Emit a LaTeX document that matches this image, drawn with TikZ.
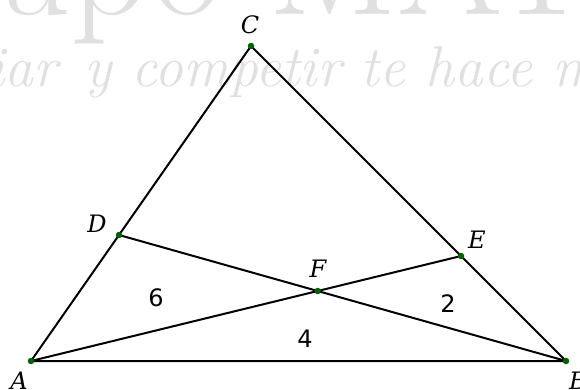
\documentclass[tikz,border=0pt]{standalone}
\usepackage{fontspec}
\newfontfamily\lblfont{DejaVu Serif}
\newfontfamily\numfont{DejaVu Sans}
\usetikzlibrary{intersections,calc}
\definecolor{ptgreen}{RGB}{0,100,0}
\definecolor{wmgray}{RGB}{224,224,224}
\tikzset{
  seg/.style={line width=2pt, black, line cap=round},
  pt/.style={circle, fill=ptgreen, inner sep=0pt, minimum size=6.5pt},
  lbl/.style={font=\lblfont\itshape\fontsize{24}{27}\selectfont, inner sep=0pt},
  num/.style={font=\numfont\fontsize{24}{27}\selectfont, inner sep=0pt},
  wm/.style={text=wmgray, inner sep=0pt, anchor=base west}
}
\begin{document}
\begin{tikzpicture}[x=1pt, y=-1pt]
\useasboundingbox (0,0) rectangle (580,390);
\begin{scope}
\clip (0,0) rectangle (580,390);
\node[wm, font=\fontsize{152}{160}\selectfont] (wm1) at (-7,15) {\llap{Gr}upo MATE};
\node[wm, font=\itshape\fontsize{57.5}{70}\selectfont] (wm2) at (84,87) {\llap{Estudiar\kern7pt\ }y competir te hace mejor};
\end{scope}
\coordinate (A) at (31,361);
\coordinate (B) at (566,361);
\coordinate (C) at (251,46);
\coordinate (D) at ($(A)!0.4!(C)$);
\coordinate (E) at ($(B)!0.3333!(C)$);
\path[name path=ae] (A) -- (E);
\path[name path=bd] (B) -- (D);
\path[name intersections={of=ae and bd, by=F}];
\draw[seg] (A) -- (B) -- (C) -- cycle;
\draw[seg] (A) -- (E);
\draw[seg] (B) -- (D);
\foreach \p in {A,B,C,D,E,F} \node[pt] (d\p) at (\p) {};
\node[lbl] (lA) at (19,381) {A};
\node[lbl] (lB) at (578,381) {B};
\node[lbl] (lC) at (250,25) {C};
\node[lbl] (lD) at (97,224) {D};
\node[lbl] (lE) at (477,240) {E};
\node[lbl] (lF) at (318,269) {F};
\node[num] (n6) at (156,298) {6};
\node[num] (n2) at (448,304) {2};
\node[num] (n4) at (305,339) {4};
\end{tikzpicture}
\end{document}
